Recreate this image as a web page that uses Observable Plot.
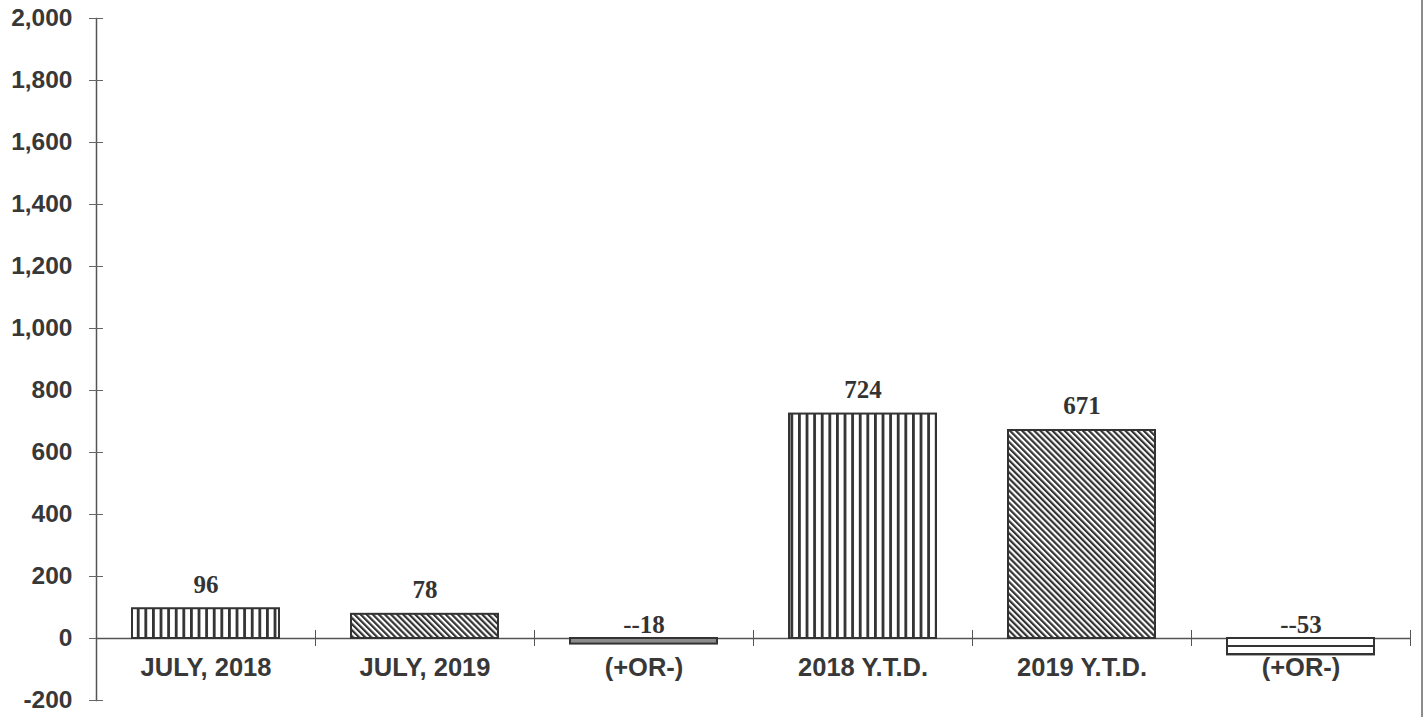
<!DOCTYPE html>
<html><head><meta charset="utf-8">
<script src="https://cdn.jsdelivr.net/npm/d3@7"></script>
<script src="https://cdn.jsdelivr.net/npm/@observablehq/plot@0.6"></script>
<style>
html,body{margin:0;padding:0;background:#fff;}
#chart svg{display:block;border-right:2px solid #8c8c8c;}
</style></head><body><div id="chart"></div>
<script>
const categories = ["JULY, 2018", "JULY, 2019", "(+OR-)", "2018 Y.T.D.", "2019 Y.T.D.", "(+OR-)"];
const values = [96, 78, -18, 724, 671, -53];
const valueLabels = ["96", "78", "--18", "724", "671", "--53"];
const yTicks = [-200, 0, 200, 400, 600, 800, 1000, 1200, 1400, 1600, 1800, 2000];

// styles (not data)
const barFills = ["url(#vstripe)", "url(#dstripe)", "#8c8c8c", "url(#vstripe)", "url(#dstripe)", "url(#hstripe)"];

const rows = categories.map((c, i) => ({i, category: c, value: values[i], label: valueLabels[i], fill: barFills[i]}));

const W = 1421, H = 717, ml = 96, mr = 11, mt = 18, mb = 17;
const step = (W - ml - mr) / categories.length;
const sans = "'Liberation Sans', Arial, sans-serif";
const serif = "'Liberation Serif', 'Times New Roman', serif";

const svg = Plot.plot({
  width: W, height: H,
  marginLeft: ml, marginRight: mr, marginTop: mt, marginBottom: mb,
  style: {fontFamily: sans, color: "#333", background: "#fff"},
  x: {type: "band", domain: d3.range(categories.length), paddingInner: 0.33, paddingOuter: 0.165, axis: null},
  y: {domain: [-200, 2000], axis: null},
  color: {type: "identity"},
  marks: [
    Plot.frame({anchor: "left", stroke: "#555", strokeWidth: 1.5}),
    Plot.axisY({ticks: yTicks, tickSize: 14, dx: 7, tickPadding: 17,
      tickFormat: d => d.toLocaleString("en-US"), fontSize: 24.5, fontWeight: "bold",
      stroke: "#666", fill: "#383838", label: null}),
    Plot.ruleY([0], {stroke: "#555", strokeWidth: 1.5}),
    Plot.ruleX(d3.range(categories.length), {x: d => d, dx: step / 2, y1: 0, y2: 0,
      insetTop: -8, insetBottom: -8, stroke: "#555"}),
    Plot.barY(rows, {x: "i", y: "value", fill: "fill", stroke: "#333", strokeWidth: 2}),
    Plot.text(rows.filter(d => d.value >= 0), {x: "i", y: "value", text: "label", dy: -24,
      fontFamily: serif, fontSize: 25, fontWeight: "bold", fill: "#333"}),
    Plot.text(rows.filter(d => d.value < 0), {x: "i", y: 0, text: "label", dy: -14,
      fontFamily: serif, fontSize: 25, fontWeight: "bold", fill: "#333"}),
    Plot.text(rows, {x: "i", y: 0, text: "category", dy: 29,
      fontFamily: sans, fontSize: 25.5, fontWeight: "bold", fill: "#383838"})
  ]
});

d3.select(svg).insert("defs", ":first-child").html(`
  <pattern id="vstripe" patternUnits="userSpaceOnUse" width="7.6" height="10">
    <rect width="7.6" height="10" fill="#fff"/><rect x="0" width="2.8" height="10" fill="#333"/>
  </pattern>
  <pattern id="dstripe" patternUnits="userSpaceOnUse" width="4.3" height="10" patternTransform="rotate(-45)">
    <rect width="4.3" height="10" fill="#fff"/><rect width="2.2" height="10" fill="#333"/>
  </pattern>
  <pattern id="hstripe" patternUnits="userSpaceOnUse" width="10" height="8">
    <rect width="10" height="8" fill="#fff"/><rect y="5" width="10" height="2" fill="#333"/>
  </pattern>`);

document.getElementById("chart").appendChild(svg);
</script></body></html>
